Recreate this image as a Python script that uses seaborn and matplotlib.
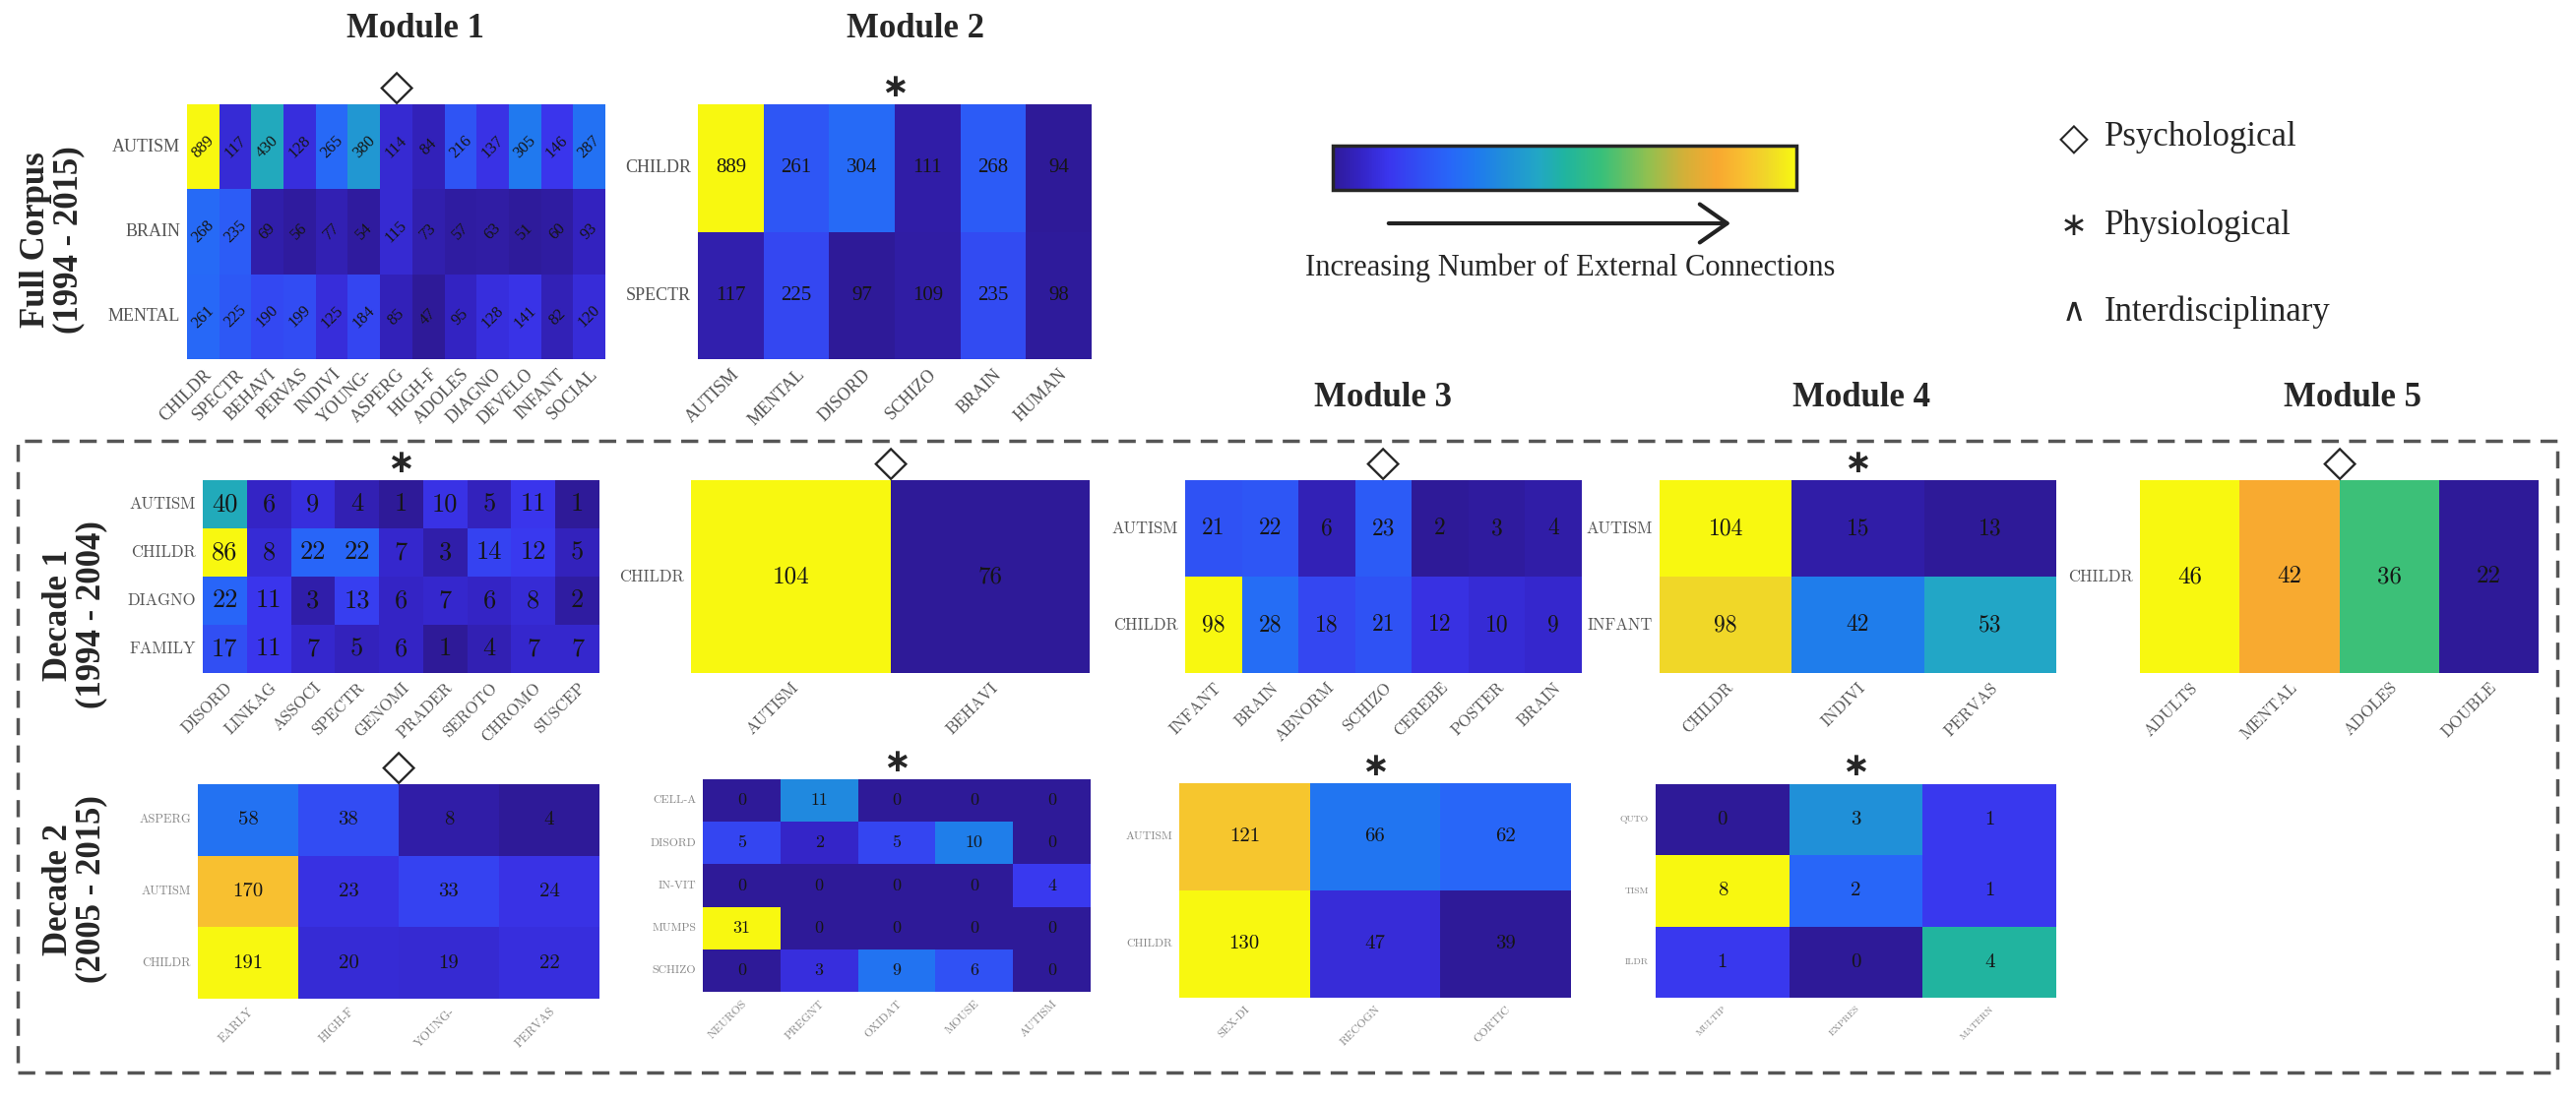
import numpy as np
import seaborn as sns
import matplotlib.pyplot as plt
from matplotlib.colors import LinearSegmentedColormap, Normalize
from matplotlib.cm import ScalarMappable
from matplotlib.patches import Rectangle, FancyArrowPatch

# ---------------- data ----------------
full_m1_rows = ["AUTISM", "BRAIN", "MENTAL"]
full_m1_cols = ["CHILDR", "SPECTR", "BEHAVI", "PERVAS", "INDIVI", "YOUNG-", "ASPERG",
                "HIGH-F", "ADOLES", "DIAGNO", "DEVELO", "INFANT", "SOCIAL"]
full_m1_vals = [[889, 117, 430, 128, 265, 380, 114, 84, 216, 137, 305, 146, 287],
                [268, 235, 69, 56, 77, 54, 115, 73, 57, 63, 51, 60, 93],
                [261, 225, 190, 199, 125, 184, 85, 47, 95, 128, 141, 82, 120]]

full_m2_rows = ["CHILDR", "SPECTR"]
full_m2_cols = ["AUTISM", "MENTAL", "DISORD", "SCHIZO", "BRAIN", "HUMAN"]
full_m2_vals = [[889, 261, 304, 111, 268, 94],
                [117, 225, 97, 109, 235, 98]]

d1_m1_rows = ["AUTISM", "CHILDR", "DIAGNO", "FAMILY"]
d1_m1_cols = ["DISORD", "LINKAG", "ASSOCI", "SPECTR", "GENOMI", "PRADER", "SEROTO", "CHROMO", "SUSCEP"]
d1_m1_vals = [[40, 6, 9, 4, 1, 10, 5, 11, 1],
              [86, 8, 22, 22, 7, 3, 14, 12, 5],
              [22, 11, 3, 13, 6, 7, 6, 8, 2],
              [17, 11, 7, 5, 6, 1, 4, 7, 7]]

d1_m2_rows = ["CHILDR"]
d1_m2_cols = ["AUTISM", "BEHAVI"]
d1_m2_vals = [[104, 76]]

d1_m3_rows = ["AUTISM", "CHILDR"]
d1_m3_cols = ["INFANT", "BRAIN", "ABNORM", "SCHIZO", "CEREBE", "POSTER", "BRAIN"]
d1_m3_vals = [[21, 22, 6, 23, 2, 3, 4],
              [98, 28, 18, 21, 12, 10, 9]]

d1_m4_rows = ["AUTISM", "INFANT"]
d1_m4_cols = ["CHILDR", "INDIVI", "PERVAS"]
d1_m4_vals = [[104, 15, 13],
              [98, 42, 53]]

d1_m5_rows = ["CHILDR"]
d1_m5_cols = ["ADULTS", "MENTAL", "ADOLES", "DOUBLE"]
d1_m5_vals = [[46, 42, 36, 22]]

d2_m1_rows = ["ASPERG", "AUTISM", "CHILDR"]
d2_m1_cols = ["EARLY", "HIGH-F", "YOUNG-", "PERVAS"]
d2_m1_vals = [[58, 38, 8, 4],
              [170, 23, 33, 24],
              [191, 20, 19, 22]]

d2_m2_rows = ["CELL-A", "DISORD", "IN-VIT", "MUMPS", "SCHIZO"]
d2_m2_cols = ["NEUROS", "PREGNT", "OXIDAT", "MOUSE", "AUTISM"]
d2_m2_vals = [[0, 11, 0, 0, 0],
              [5, 2, 5, 10, 0],
              [0, 0, 0, 0, 4],
              [31, 0, 0, 0, 0],
              [0, 3, 9, 6, 0]]

d2_m3_rows = ["AUTISM", "CHILDR"]
d2_m3_cols = ["SEX-DI", "RECOGN", "CORTIC"]
d2_m3_vals = [[121, 66, 62],
              [130, 47, 39]]

d2_m4_rows = ["QUTO", "TISM", "ILDR"]
d2_m4_cols = ["MULTIP", "EXPRES", "MATERN"]
d2_m4_vals = [[0, 3, 1],
              [8, 2, 1],
              [1, 0, 4]]

full_symbols = ["◇", "∗"]
d1_symbols = ["∗", "◇", "◇", "∗", "◇"]
d2_symbols = ["◇", "∗", "∗", "∗"]

cbar_ticks = [200, 400, 600, 800]
legend_symbols = ["◇", "∗", "∧"]
legend_names = ["Psychological", "Physiological", "Interdisciplinary"]

# ---------------- style ----------------
sns.set_style("white")
plt.rcParams['font.family'] = ['Liberation Serif', 'DejaVu Sans']

parula = LinearSegmentedColormap.from_list("parula_like", [
    (0.00, "#2e1a98"), (0.06, "#3424c6"), (0.12, "#3a36ee"), (0.25, "#2866f8"),
    (0.31, "#1f7aee"), (0.375, "#2090d8"), (0.44, "#22a6c6"), (0.50, "#20b4a0"),
    (0.58, "#38c07a"), (0.68, "#90c050"), (0.76, "#d4b038"), (0.83, "#f8a830"),
    (0.89, "#f8c030"), (0.94, "#f0d828"), (1.00, "#f8f810")])

W, H = 2617, 1120
fig = plt.figure(figsize=(W / 100, H / 100), dpi=100)


def box(x0, y0, x1, y1):
    return [x0 / W, 1 - y1 / H, (x1 - x0) / W, (y1 - y0) / H]


def px(x, y):
    return (x / W, 1 - y / H)


def draw(rect, vals, rows, cols, fs, lab_fs, lab_color, sym, rot=0, fam='cmr10',
         lab_fam='cmr10'):
    ax = fig.add_axes(box(*rect))
    sns.heatmap(np.array(vals), ax=ax, cmap=parula, cbar=False, annot=True, fmt='d',
                annot_kws={'fontsize': fs, 'color': '#151515', 'rotation': rot,
                           'family': fam},
                xticklabels=cols, yticklabels=rows)
    ax.set_xticklabels(cols, rotation=45, ha='right', rotation_mode='anchor',
                       fontsize=lab_fs, color=lab_color, family=lab_fam)
    ax.set_yticklabels(rows, rotation=0, fontsize=lab_fs, color=lab_color, family=lab_fam)
    ax.tick_params(length=3, color='#aaaaaa', pad=2)
    off = 1.0 + 18 / (rect[3] - rect[1])
    if sym == "◇":
        ax.text(0.5, off, sym, transform=ax.transAxes, ha='center', va='center',
                fontsize=32, fontweight='bold', family='DejaVu Sans')
    else:
        ax.text(0.5, off, sym, transform=ax.transAxes, ha='center', va='center',
                fontsize=24, fontweight='bold', family='DejaVu Sans')
    return ax


# full corpus row
draw((190, 106, 615, 365), full_m1_vals, full_m1_rows, full_m1_cols, 12, 13, '#555555',
     full_symbols[0], rot=45, fam='Liberation Serif', lab_fam='Liberation Serif')
draw((709, 106, 1109, 365), full_m2_vals, full_m2_rows, full_m2_cols, 15, 13, '#555555',
     full_symbols[1], fam='Liberation Serif', lab_fam='Liberation Serif')

# decade 1 row
d1_rects = [(206, 488, 609, 684), (702, 488, 1107, 684), (1204, 488, 1607, 684),
            (1686, 488, 2089, 684), (2174, 488, 2579, 684)]
d1_data = [(d1_m1_vals, d1_m1_rows, d1_m1_cols, 19),
           (d1_m2_vals, d1_m2_rows, d1_m2_cols, 18),
           (d1_m3_vals, d1_m3_rows, d1_m3_cols, 17),
           (d1_m4_vals, d1_m4_rows, d1_m4_cols, 17),
           (d1_m5_vals, d1_m5_rows, d1_m5_cols, 18)]
for rect, (v, r, c, fs), sym in zip(d1_rects, d1_data, d1_symbols):
    draw(rect, v, r, c, fs, 12, '#555555', sym)

# decade 2 row
d2_rects = [(201, 797, 609, 1015), (714, 792, 1108, 1008), (1198, 796, 1596, 1014),
            (1682, 797, 2089, 1014)]
d2_data = [(d2_m1_vals, d2_m1_rows, d2_m1_cols, 15, 9),
           (d2_m2_vals, d2_m2_rows, d2_m2_cols, 13, 8.5),
           (d2_m3_vals, d2_m3_rows, d2_m3_cols, 15, 8.5),
           (d2_m4_vals, d2_m4_rows, d2_m4_cols, 15, 7)]
for rect, (v, r, c, fs, lfs), sym in zip(d2_rects, d2_data, d2_symbols):
    draw(rect, v, r, c, fs, lfs, '#888888', sym)

# module titles
for (x, y), t in zip([(422, 30), (930, 30), (1405, 405), (1891, 405), (2390, 405)],
                     ["Module 1", "Module 2", "Module 3", "Module 4", "Module 5"]):
    fig.text(*px(x, y), t, ha='center', va='center', fontsize=25, fontweight='bold')

# row labels
for (x, y), t in zip([(53, 244), (76, 625), (76, 904)],
                     ["Full Corpus\n(1994 - 2015)", "Decade 1\n(1994 - 2004)",
                      "Decade 2\n(2005 - 2015)"]):
    fig.text(*px(x, y), t, ha='center', va='center', rotation=90, fontsize=25,
             fontweight='bold', linespacing=1.0)

# colorbar
cax = fig.add_axes(box(1354, 148, 1825, 193))
cb = fig.colorbar(ScalarMappable(norm=Normalize(0, np.max(full_m1_vals)), cmap=parula),
                  cax=cax, orientation='horizontal', ticks=cbar_ticks)
cb.ax.tick_params(direction='in', length=6, width=1, labelbottom=False)
cb.outline.set_linewidth(2.5)

arrow = FancyArrowPatch(px(1408, 227), px(1761, 227), transform=fig.transFigure,
                        arrowstyle='->,head_length=0.5,head_width=0.35',
                        mutation_scale=40, lw=3, color='#222222')
fig.add_artist(arrow)
fig.text(*px(1595, 272), "Increasing Number of External Connections", ha='center',
         va='center', fontsize=22)

# legend
for y, s, name in zip([140, 230, 317], legend_symbols, legend_names):
    fig.text(*px(2107, y), s, ha='center', va='center', fontsize=28 if s == "◇" else 24,
             family='DejaVu Sans')
    fig.text(*px(2138, y), name, ha='left', va='center', fontsize=25)

# dashed box around the decade panels
fig.add_artist(Rectangle(px(18, 1090), (2598 - 18) / W, (1090 - 448) / H,
                         transform=fig.transFigure, fill=False, linestyle=(0, (5, 3)),
                         lw=2.5, edgecolor='#555555'))

plt.savefig('out.png', dpi=100)
